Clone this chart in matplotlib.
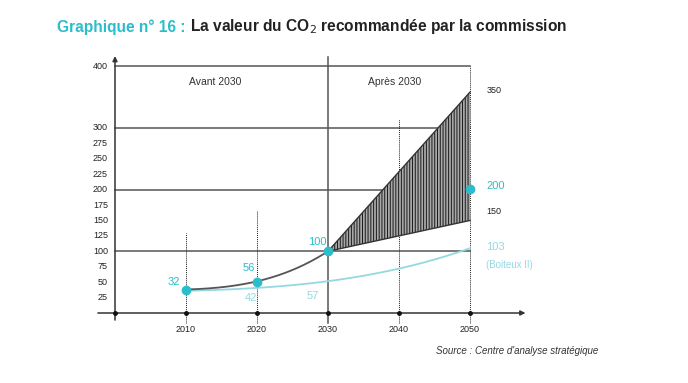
import numpy as np
import matplotlib
matplotlib.use('agg')
from matplotlib import pyplot as plt

plt.rcParams['font.family'] = ['Liberation Sans', 'DejaVu Sans']
plt.rcParams['hatch.linewidth'] = 0.7

# data
main_years = [2010, 2015, 2020, 2025, 2030]
main_values = [38, 42, 51, 70, 100]
boiteux_years = [2010, 2020, 2030, 2035, 2040, 2050]
boiteux_values = [36, 40.5, 52, 60, 72, 105]
band_years = [2030, 2050]
band_high = [100, 358]
band_low = [100, 150]
marker_years = [2010, 2020, 2030, 2050]
marker_values = [38, 51, 100, 201]
y_ticks = [25, 50, 75, 100, 125, 150, 175, 200, 225, 250, 275, 300, 400]
x_ticks = [2010, 2020, 2030, 2040, 2050]
grid_values = [100, 200, 300, 400]
dotted_years = [2010, 2020, 2040, 2050]
dotted_tops = [130, 165, 315, 400]

CYAN = '#2bbdcb'
LIGHT = '#95d8e2'
GRAY = '#555555'


def smooth(xs, ys, deg=3):
    c = np.polyfit(xs, ys, deg)
    xx = np.linspace(xs[0], xs[-1], 200)
    return xx, np.polyval(c, xx)


W, H = 688, 383
fig = plt.figure(figsize=(W / 100, H / 100), dpi=100)
# axes pixel box: x 90..540, y 50..330
ax = fig.add_axes([90 / W, (H - 330) / H, 450 / W, 280 / H])
ax.set_xlim(2000 + (90 - 115) / 7.1, 2000 + (540 - 115) / 7.1)
ax.set_ylim((313 - 330) / 0.617, (313 - 50) / 0.617)
ax.axis('off')

# grid lines
for v in grid_values:
    ax.plot([2000, 2050], [v, v], color=GRAY, lw=1.1, zorder=2)
for yr, top in zip(dotted_years, dotted_tops):
    ax.plot([yr, yr], [-16, top], color='#222', lw=0.7, ls=(0, (1, 1)), zorder=2)
ax.plot([2030, 2030], [-16, 415], color=GRAY, lw=1.1, zorder=2)

# axes with arrows
ax.annotate('', xy=(2000, 421), xytext=(2000, -16),
            arrowprops=dict(arrowstyle='-|>', color='#333', lw=1.1, mutation_scale=7), zorder=3)
ax.annotate('', xy=(2058.2, 0), xytext=(1997.2, 0),
            arrowprops=dict(arrowstyle='-|>', color='#333', lw=1.1, mutation_scale=7), zorder=3)
ax.plot([2000] + x_ticks, [0] * 6, 'o', color='#111', ms=2.5, zorder=4)

# hatched band
ax.fill_between(band_years, band_low, band_high, facecolor='#a8a8a8',
                edgecolor='#1a1a1a', hatch='||||||', lw=0, zorder=3)
ax.plot(band_years, band_high, color='#333', lw=1.0, zorder=4)
ax.plot(band_years, band_low, color='#333', lw=1.0, zorder=4)

# curves
bx, by = smooth(boiteux_years, boiteux_values)
ax.plot(bx, by, color=LIGHT, lw=1.3, zorder=4)
mx, my = smooth(main_years, main_values)
ax.plot(mx, my, color=GRAY, lw=1.3, zorder=5)
ax.plot(marker_years, marker_values, 'o', color=CYAN, ms=6, zorder=6)

# tick labels
for v in y_ticks:
    ax.text(1999.0, v, str(v), ha='right', va='center', fontsize=6.5, color='#222')
for yr in x_ticks:
    ax.text(yr, -27.5, str(yr), ha='center', va='center', fontsize=6.5, color='#222')

# annotations
ax.text(2014.1, 374, 'Avant 2030', ha='center', va='center', fontsize=7.5, color='#333')
ax.text(2039.4, 374, 'Après 2030', ha='center', va='center', fontsize=7.5, color='#333')
ax.text(2009.2, 50, '32', ha='right', va='center', fontsize=8, color=CYAN)
ax.text(2018.9, 73, '56', ha='center', va='center', fontsize=8, color=CYAN)
ax.text(2028.5, 115, '100', ha='center', va='center', fontsize=8, color=CYAN)
ax.text(2019.2, 24, '42', ha='center', va='center', fontsize=8, color=LIGHT)
ax.text(2027.9, 27.5, '57', ha='center', va='center', fontsize=8, color=LIGHT)
ax.text(2052.3, 361, '350', ha='left', va='center', fontsize=6.5, color='#222')
ax.text(2052.3, 206, '200', ha='left', va='center', fontsize=8, color=CYAN)
ax.text(2052.3, 164, '150', ha='left', va='center', fontsize=6.5, color='#222')
ax.text(2052.3, 107, '103', ha='left', va='center', fontsize=8, color=LIGHT)
ax.text(2052.3, 78, '(Boiteux II)', ha='left', va='center', fontsize=7, color=LIGHT)

# title
t1 = fig.text(57 / W, 1 - 27 / H, 'Graphique n° 16 : ', ha='left', va='center',
              fontsize=11.2, fontweight='bold', color=CYAN)
fig.canvas.draw()
bb = t1.get_window_extent()
fig.text(bb.x1 / W, 1 - 27 / H, 'La valeur du CO$_2$ recommandée par la commission',
         ha='left', va='center', fontsize=11.2, fontweight='bold', color='#222')

fig.text(598 / W, 1 - 351 / H, "Source : Centre d'analyse stratégique", ha='right',
         va='center', fontsize=7, style='italic', color='#333')

fig.savefig('out.png', dpi=100)
